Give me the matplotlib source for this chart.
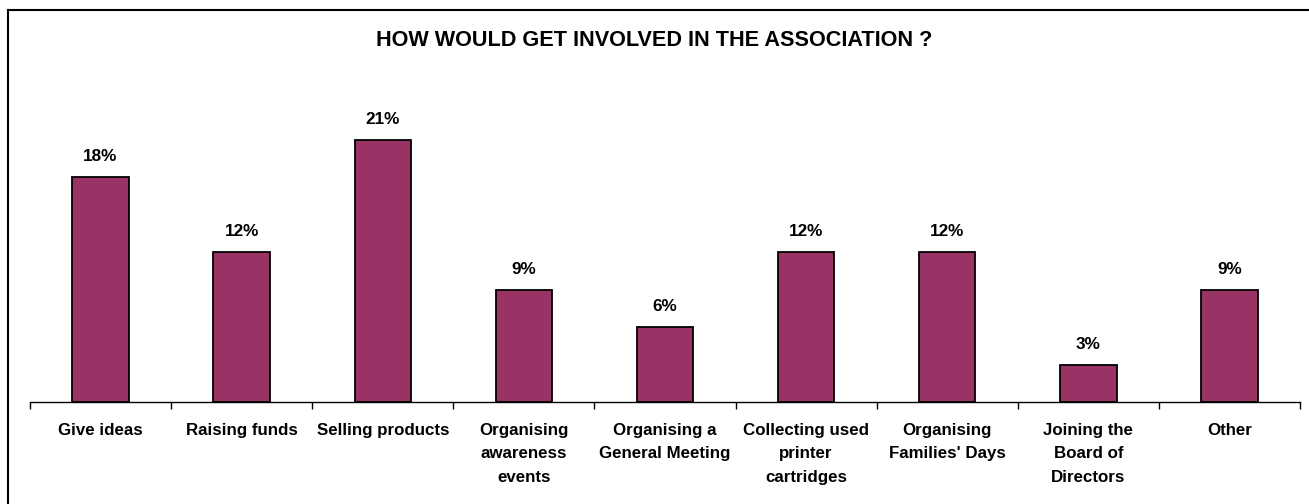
import numpy as np
import matplotlib.pyplot as plt
from matplotlib.lines import Line2D

categories = ["Give ideas", "Raising funds", "Selling products",
              "Organising\nawareness\nevents", "Organising a\nGeneral Meeting",
              "Collecting used\nprinter\ncartridges", "Organising\nFamilies' Days",
              "Joining the\nBoard of\nDirectors", "Other"]
values = [18, 12, 21, 9, 6, 12, 12, 3, 9]
title = "HOW WOULD GET INVOLVED IN THE ASSOCIATION ?"

plt.rcParams['font.family'] = ['Liberation Sans', 'DejaVu Sans']

W, H = 1309, 504
fig = plt.figure(figsize=(W / 100, H / 100), dpi=100)
fig.patch.set_facecolor('white')

# axes placed in pixel terms: baseline at y=402, top at y=60
ax_left, ax_right, ax_bottom, ax_top = 30, 1300, 402, 60
ax = fig.add_axes([ax_left / W, 1 - ax_bottom / H,
                   (ax_right - ax_left) / W, (ax_bottom - ax_top) / H])

x = np.arange(len(categories))
ax.bar(x, values, width=0.4, color='#993366', edgecolor='black', linewidth=1.3)
for xi, v in zip(x, values):
    ax.annotate(f"{v}%", (xi, v), xytext=(0, 11.5), textcoords='offset points',
                ha='center', va='baseline', fontsize=12.3, fontweight='bold')

ax.set_xlim(-0.5, len(categories) - 0.5)
ax.set_ylim(0, (ax_bottom - ax_top) / 12.5)

ax.set_xticks(x)
ax.set_xticklabels(categories, fontsize=12.2, fontweight='bold', linespacing=1.7, va='top')
ax.tick_params(axis='x', which='major', length=0, pad=15)
ax.set_xticks(np.arange(len(categories) + 1) - 0.5, minor=True)
ax.tick_params(axis='x', which='minor', length=5, width=1, direction='out')
ax.set_yticks([])
for side in ['top', 'right', 'left']:
    ax.spines[side].set_visible(False)
ax.spines['bottom'].set_linewidth(1)

fig.text(0.5, 1 - 46 / H, title, ha='center', va='baseline', fontsize=15.6, fontweight='bold')

# chart border (goes off the right and bottom edges)
fig.add_artist(Line2D([8 / W, 8 / W], [0, 1 - 10 / H], color='black', lw=1.5, transform=fig.transFigure))
fig.add_artist(Line2D([8 / W, 1], [1 - 10 / H, 1 - 10 / H], color='black', lw=1.5, transform=fig.transFigure))

fig.savefig('out.png', dpi=100, facecolor='white')
